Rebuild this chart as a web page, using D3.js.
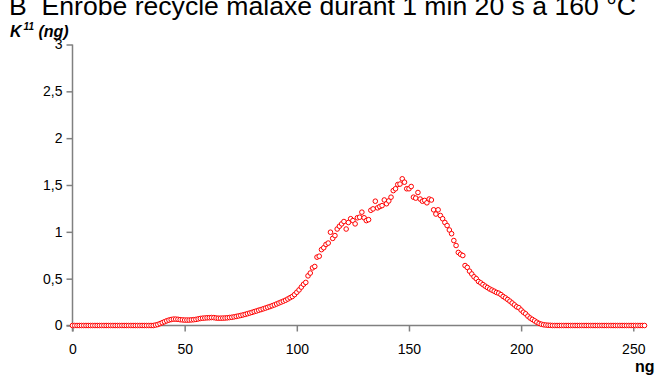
<!DOCTYPE html>
<html>
<head>
<meta charset="utf-8">
<script src="https://cdn.jsdelivr.net/npm/d3@7/dist/d3.min.js"></script>
<style>
html,body{margin:0;padding:0;background:#fff;}
svg{display:block;font-family:Arial,"Liberation Sans",sans-serif;}
</style>
</head>
<body>
<svg id="chart" width="666" height="376"></svg>
<script>
const titleText = "B\u00a0 Enrobé recyclé malaxé durant 1 min 20 s à 160 °C";
const xTicks = [0, 50, 100, 150, 200, 250];
const yTicks = [0, 0.5, 1, 1.5, 2, 2.5, 3];
const yTickLabels = ["0", "0,5", "1", "1,5", "2", "2,5", "3"];
// ng values 0..255 (one point per unit)
const ngValues = [
0,0,0,0,0,0,0,0,0,0,
0,0,0,0,0,0,0,0,0,0,
0,0,0,0,0,0,0,0,0,0,
0,0,0,0,0,0,0,0.005,0.01,0.02,
0.03,0.04,0.05,0.058,0.064,0.068,0.068,0.066,0.062,0.06,
0.058,0.058,0.058,0.06,0.062,0.065,0.07,0.075,0.078,0.08,
0.082,0.083,0.085,0.084,0.08,0.078,0.078,0.079,0.08,0.082,
0.085,0.088,0.092,0.097,0.102,0.107,0.113,0.119,0.126,0.133,
0.14,0.148,0.155,0.163,0.17,0.178,0.186,0.194,0.202,0.211,
0.22,0.23,0.24,0.25,0.26,0.27,0.283,0.297,0.31,0.33,
0.355,0.38,0.41,0.44,0.46,0.53,0.56,0.615,0.63,0.73,
0.74,0.81,0.83,0.865,0.88,0.996,0.93,0.96,1.03,1.06,
1.085,1.11,1.03,1.1,1.14,1.12,1.085,1.15,1.156,1.21,
1.15,1.12,1.13,1.23,1.245,1.327,1.256,1.27,1.28,1.34,
1.3,1.33,1.37,1.44,1.46,1.505,1.51,1.566,1.53,1.46,
1.46,1.484,1.37,1.36,1.42,1.35,1.327,1.335,1.31,1.35,
1.34,1.235,1.19,1.235,1.174,1.14,1.1,1.067,1.02,0.98,
0.907,0.854,0.78,0.76,0.747,0.64,0.62,0.58,0.55,0.52,
0.5,0.47,0.455,0.437,0.42,0.405,0.39,0.378,0.366,0.353,
0.345,0.33,0.31,0.295,0.278,0.26,0.24,0.22,0.2,0.19,
0.165,0.142,0.125,0.1,0.08,0.065,0.05,0.035,0.022,0.014,
0.008,0.005,0.003,0.002,0,0,0,0,0,0,
0,0,0,0,0,0,0,0,0,0,
0,0,0,0,0,0,0,0,0,0,
0,0,0,0,0,0,0,0,0,0,
0,0,0,0,0,0
];
const ngX = ngValues.map((v, i) => i);

const svg = d3.select("#chart");
const x = d3.scaleLinear().domain([0, 255]).range([72.5, 644.5]);
const y = d3.scaleLinear().domain([0, 3]).range([325.5, 44.5]);
const axisColor = "#808080";

// Title
svg.append("text").attr("x", 9).attr("y", 15)
  .attr("font-size", 26.6).attr("fill", "#000").text(titleText);

// Y label
const yl = svg.append("text").attr("x", 10).attr("y", 37)
  .attr("font-size", 16).attr("font-weight", "bold").attr("font-style", "italic");
yl.append("tspan").text("K");
yl.append("tspan").attr("font-size", 10).attr("dy", -7).attr("dx", 2).text("11");
yl.append("tspan").attr("dy", 7).text(" (ng)");

// Y axis
const yAxis = d3.axisLeft(y).tickValues(yTicks)
  .tickFormat((d, i) => yTickLabels[i]).tickSize(6).tickPadding(4);
const gy = svg.append("g").attr("transform", "translate(72.5,0)").call(yAxis);
gy.select(".domain").remove();
gy.append("line").attr("x1", 0).attr("x2", 0).attr("y1", y(3)).attr("y2", y(0) + 6)
  .attr("stroke", axisColor).attr("stroke-width", 1.5);
gy.selectAll(".tick line").attr("stroke", axisColor).attr("stroke-width", 1.5);
gy.selectAll(".tick text").attr("font-size", 14).attr("fill", "#000")
  .attr("font-family", "Arial, 'Liberation Sans', sans-serif");

// X axis
const xAxis = d3.axisBottom(x).tickValues(xTicks).tickSize(6).tickPadding(13);
const gx = svg.append("g").attr("transform", "translate(0,325.5)").call(xAxis);
gx.select(".domain").remove();
gx.append("line").attr("x1", x(0) - 6).attr("x2", x(255)).attr("y1", 0).attr("y2", 0)
  .attr("stroke", axisColor).attr("stroke-width", 1.5);
gx.selectAll(".tick line").attr("stroke", axisColor).attr("stroke-width", 1.5);
gx.selectAll(".tick text").attr("font-size", 14).attr("fill", "#000")
  .attr("font-family", "Arial, 'Liberation Sans', sans-serif");

// X label
svg.append("text").attr("x", 635).attr("y", 372)
  .attr("font-size", 16).attr("font-weight", "bold").text("ng");

// Points
svg.append("g").selectAll("circle").data(ngValues).join("circle")
  .attr("cx", (d, i) => x(ngX[i])).attr("cy", d => y(d)).attr("r", 2.3)
  .attr("fill", "#fff").attr("stroke", "#ff0000").attr("stroke-width", 1);
</script>
</body>
</html>
